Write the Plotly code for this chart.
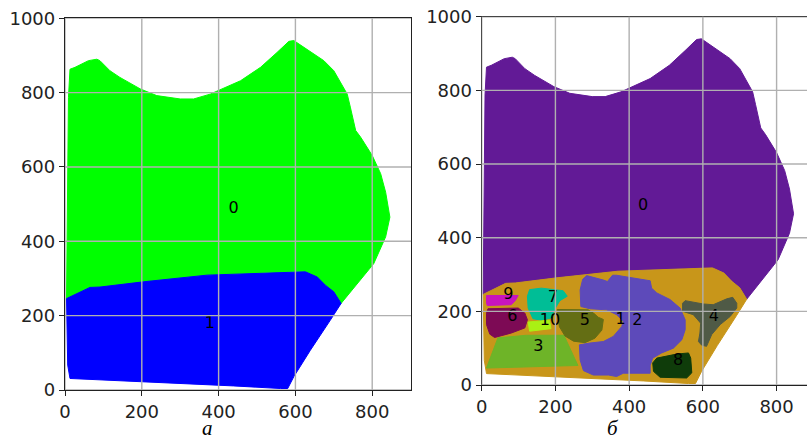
import plotly.graph_objects as go

# ---- segment outlines (data coordinates) ----
# region 0: the upper part of the field
region0_x = [4, 6, 9, 13, 26, 61, 83, 91, 117, 143, 196, 239, 300, 335, 378, 457, 509, 552, 583, 596,
             630, 674, 700, 735, 743, 757, 770, 800, 822, 835, 846, 835, 804, 761, 719,
             700, 678, 657, 626, 596, 370, 204, 91, 65, 39]
region0_y = [246, 500, 787, 863, 868, 886, 890, 886, 859, 841, 810, 792, 783, 783, 796, 832, 868, 908, 938, 940,
             917, 886, 859, 796, 761, 698, 680, 631, 582, 532, 465, 412, 340, 286, 233,
             264, 282, 304, 318, 318, 309, 291, 277, 276, 264]

# region 1: the lower part of the field
region1_x = [4, 39, 65, 91, 204, 370, 596, 626, 657, 678, 700, 719, 691, 639, 596, 580, 561, 439, 13, 7]
region1_y = [246, 264, 276, 277, 291, 309, 318, 318, 304, 282, 264, 233, 188, 107, 36, 4, 4, 11, 31, 67]

# sub-segments of region 1
region2_x = [274, 285, 330, 341, 355, 366, 402, 457, 461, 475, 511, 538, 552, 552, 543, 520, 488, 464,
             457, 457, 384, 366, 344, 303, 276, 267, 265, 294, 330, 357, 380, 384, 366, 339, 294, 269, 267]
region2_y = [287, 297, 285, 281, 298, 298, 292, 283, 263, 250, 232, 209, 177, 150, 123, 100, 87, 73,
             54, 32, 32, 23, 27, 27, 39, 68, 109, 114, 118, 132, 159, 173, 191, 204, 207, 213, 258]

region3_x = [44, 121, 223, 261, 13, 26]
region3_y = [128, 135, 135, 53, 46, 82]

region4_x = [552, 601, 628, 665, 681, 692, 692, 674, 647, 624, 610, 597, 588, 592, 594, 574, 545, 545]
region4_y = [229, 220, 218, 234, 238, 222, 209, 186, 164, 137, 105, 108, 118, 141, 168, 191, 200, 222]

region5_x = [205, 289, 305, 316, 330, 326, 307, 280, 249, 226, 211, 205]
region5_y = [205, 204, 194, 184, 178, 149, 127, 115, 119, 133, 158, 190]

region6_x = [17, 99, 117, 124, 117, 80, 35, 22, 13, 13]
region6_y = [207, 209, 195, 177, 155, 141, 129, 138, 164, 195]

region7_x = [130, 162, 221, 232, 212, 200, 189, 162, 139, 126, 124]
region7_y = [259, 263, 256, 241, 229, 209, 182, 176, 180, 209, 241]

region8_x = [475, 529, 561, 567, 570, 556, 484, 466, 464]
region8_y = [73, 84, 87, 73, 33, 19, 21, 37, 60]

region9_x = [13, 99, 91, 80, 15, 13]
region9_y = [243, 243, 229, 218, 216, 223]

region10_x = [126, 184, 188, 130]
region10_y = [171, 176, 153, 146]

# label positions
labels_a_text = ["0", "1"]
labels_a_x = [439, 377]
labels_a_y = [488, 177]

labels_b_text = ["0", "9", "7", "6", "10", "5", "1", "2", "4", "3", "8"]
labels_b_x = [438, 72, 193, 83, 185, 280, 377, 422, 630, 154, 533]
labels_b_y = [487, 244, 235, 185, 175, 175, 176, 175, 184, 104, 65]

tick_vals_x = [0, 200, 400, 600, 800]
tick_vals_y = [0, 200, 400, 600, 800, 1000]

colors_a = {0: "#00ff00", 1: "#0000ff"}
colors_b = {0: "#621a96", 1: "#c8961a", 2: "#5d4aba", 3: "#6eb428", 4: "#4f5a46",
            5: "#646e14", 6: "#7d0a55", 7: "#00be96", 8: "#0f3c0a", 9: "#c814be", 10: "#aaf014"}

regions = {
    0: (region0_x, region0_y), 1: (region1_x, region1_y), 2: (region2_x, region2_y),
    3: (region3_x, region3_y), 4: (region4_x, region4_y), 5: (region5_x, region5_y),
    6: (region6_x, region6_y), 7: (region7_x, region7_y), 8: (region8_x, region8_y),
    9: (region9_x, region9_y), 10: (region10_x, region10_y),
}

fig = go.Figure()


def add_region(xs, ys, color, xa, ya):
    fig.add_trace(go.Scatter(
        x=list(xs) + [xs[0]], y=list(ys) + [ys[0]], mode="lines", fill="toself",
        fillcolor=color, line=dict(color=color, width=1), hoverinfo="skip",
        showlegend=False, xaxis=xa, yaxis=ya))


# left panel: two segments
for k in (0, 1):
    add_region(*regions[k], colors_a[k], "x", "y")
# right panel: all segments
for k in range(11):
    add_region(*regions[k], colors_b[k], "x2", "y2")

fig.add_trace(go.Scatter(x=labels_a_x, y=labels_a_y, text=labels_a_text, mode="text",
                         textfont=dict(family="DejaVu Sans", size=16, color="black"),
                         showlegend=False, hoverinfo="skip", xaxis="x", yaxis="y"))
fig.add_trace(go.Scatter(x=labels_b_x, y=labels_b_y, text=labels_b_text, mode="text",
                         textfont=dict(family="DejaVu Sans", size=16, color="black"),
                         showlegend=False, hoverinfo="skip", xaxis="x2", yaxis="y2"))

# grid drawn above the filled regions
shapes = []
for xa, ya in (("x", "y"), ("x2", "y2")):
    for v in tick_vals_x:
        shapes.append(dict(type="line", xref=xa, yref=ya + " domain", x0=v, x1=v, y0=0, y1=1,
                           line=dict(color="#b0b0b0", width=1.4), layer="above"))
    for v in tick_vals_y:
        shapes.append(dict(type="line", xref=xa + " domain", yref=ya, x0=0, x1=1, y0=v, y1=v,
                           line=dict(color="#b0b0b0", width=1.4), layer="above"))

W, H = 807, 438
tickfont = dict(family="DejaVu Sans", size=18, color="#222222")
axis_common = dict(showgrid=False, zeroline=False, showline=True, linecolor="#222222", linewidth=1.3,
                   ticks="outside", ticklen=5, tickwidth=1.3, tickcolor="#222222",
                   tickfont=tickfont, layer="above traces", automargin=False)

fig.update_layout(
    width=W, height=H, margin=dict(l=0, r=0, t=0, b=0, autoexpand=False),
    paper_bgcolor="white", plot_bgcolor="white",
    shapes=shapes,
    xaxis=dict(domain=[65 / W, 411 / W], range=[0, 901], tickvals=tick_vals_x,
               mirror=True, anchor="y", **axis_common),
    yaxis=dict(domain=[1 - 390 / H, 1 - 18.3 / H], range=[0, 1000], tickvals=tick_vals_y,
               mirror=True, anchor="x", **axis_common),
    xaxis2=dict(domain=[481.7 / W, 1.0], range=[0, 882.5], tickvals=tick_vals_x,
                mirror=True, anchor="y2", **axis_common),
    yaxis2=dict(domain=[1 - 385 / H, 1 - 16.7 / H], range=[0, 1000], tickvals=tick_vals_y,
                mirror=False, anchor="x2", **axis_common),
    annotations=[
        dict(text="<i>а</i>", x=200 / W, y=1 - 428 / H, xref="paper", yref="paper",
             yanchor="middle", showarrow=False,
             font=dict(family="Liberation Serif", size=21, color="black")),
        dict(text="<i>б</i>", x=621 / W, y=1 - 428 / H, xref="paper", yref="paper",
             yanchor="middle", showarrow=False,
             font=dict(family="Liberation Serif", size=21, color="black")),
    ],
)

fig.write_html("out.html")
